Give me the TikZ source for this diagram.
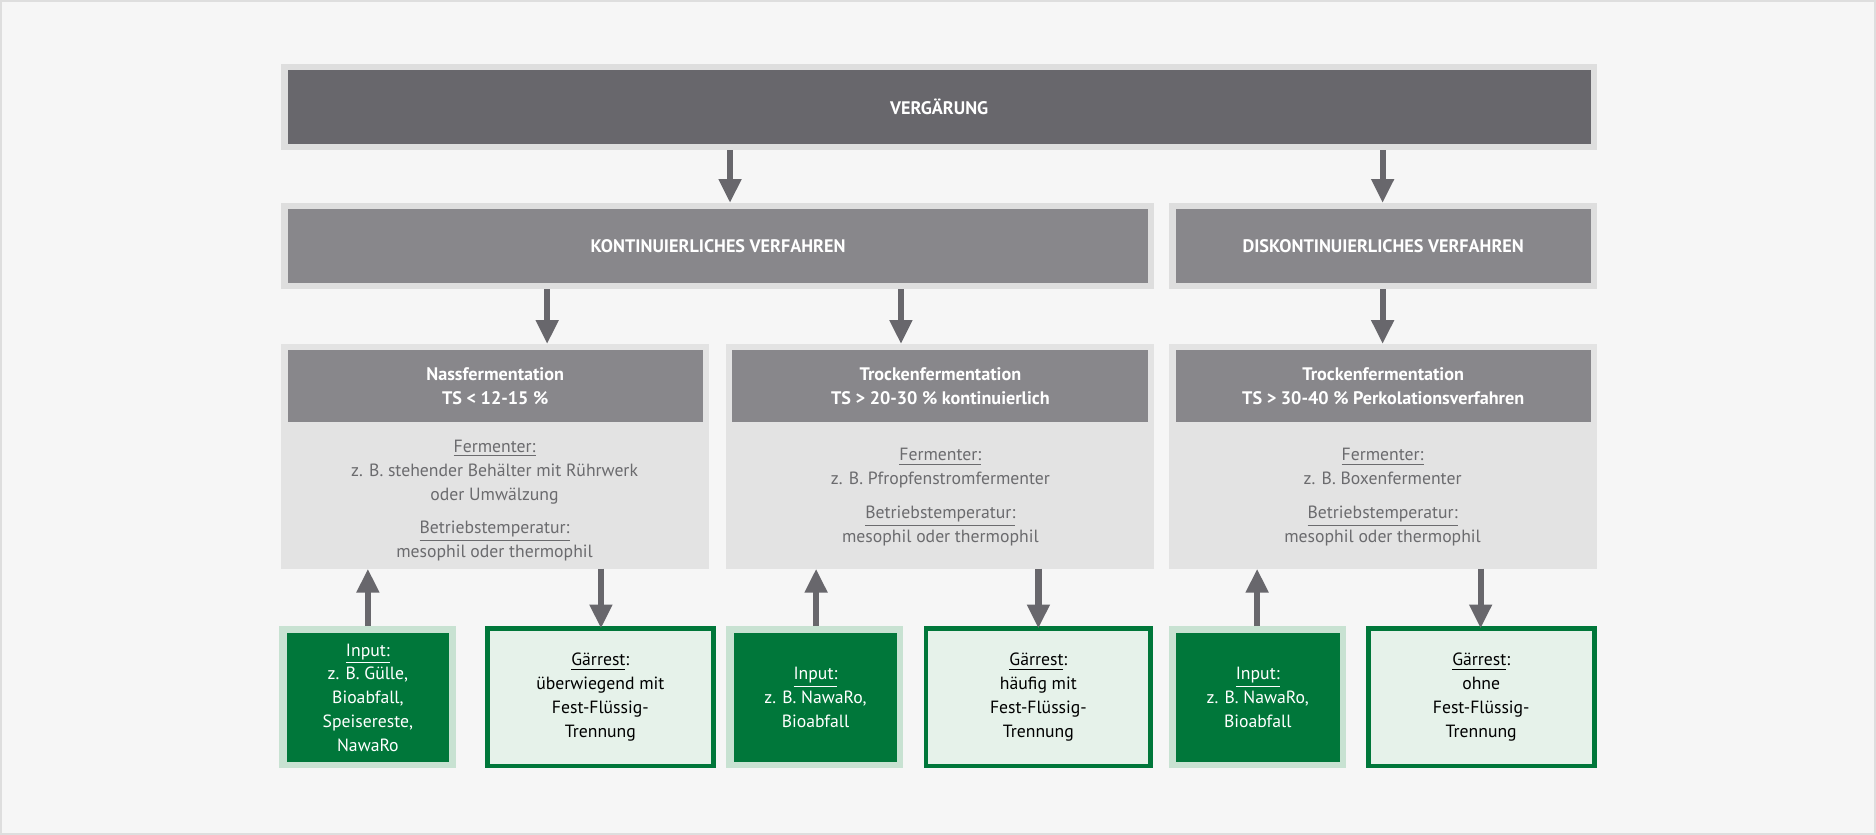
\documentclass[tikz,border=0pt]{standalone}
\usepackage{fontspec}
\setmainfont{PT Sans}
\usetikzlibrary{arrows.meta}
\definecolor{bgc}{HTML}{F6F6F6}
\definecolor{dk}{HTML}{68676C}
\definecolor{md}{HTML}{88878B}
\definecolor{fr}{HTML}{DEDEDE}
\definecolor{bodyc}{HTML}{E3E3E3}
\definecolor{gr}{HTML}{00773A}
\definecolor{grl}{HTML}{C8E2D2}
\definecolor{pale}{HTML}{E6F2EA}
\definecolor{tg}{HTML}{6B6B6E}
\newcommand\mybox[6]{\node[#6, inner sep=0pt, outer sep=0pt, minimum width={(#4-#2)*0.5pt}, minimum height={(#5-#3)*0.5pt}] (#1) at ({(#2+#4)/2},{(#3+#5)/2}) {};}
\tikzset{
 hd/.style={font=\fontsize{7.6}{10}\selectfont\bfseries, text=white, align=center},
 bt/.style={font=\fontsize{7.4}{10}\selectfont, text=tg, align=center},
 gt/.style={font=\fontsize{7.4}{10}\selectfont, align=center},
 arr/.style={draw=dk, line width=2.6pt, -{Triangle[length=10pt,width=9pt]}, shorten >=0pt},
}
\begin{document}
\begin{tikzpicture}[x=0.5pt,y=-0.5pt]
\fill[bgc, draw=fr, line width=0.8pt] (0,0) rectangle (1568,697);
\useasboundingbox (0,0) rectangle (1568,697);
% top
\mybox{vo}{234}{53}{1335}{125}{fill=fr}
\mybox{vi}{240}{58}{1330}{120}{fill=dk}
\node[hd] (vt) at (vi) {VERGÄRUNG};
% level 2
\mybox{ko}{234}{169}{965}{241}{fill=fr}
\mybox{ki}{240}{174}{960}{236}{fill=md}
\node[hd] (kt) at (ki) {KONTINUIERLICHES VERFAHREN};
\mybox{do}{977}{169}{1335}{241}{fill=fr}
\mybox{di}{983}{174}{1330}{236}{fill=md}
\node[hd] (dt) at (di) {DISKONTINUIERLICHES VERFAHREN};
\draw[arr] (vo.south -| 610,0) -- (ko.north -| 610,0);
\draw[arr] (vo.south -| 1156,0) -- (do.north -| 1156,0);
% level 3
\mybox{b1}{234}{287}{592}{475}{fill=bodyc}
\mybox{h1}{240}{292}{587}{352}{fill=md}
\node[hd] at (h1) {Nassfermentation\\TS < 12-15 \%};
\node[bt] (t1) at (413,418) {\underline{Fermenter:}\\z. B. stehender Behälter mit Rührwerk\\oder Umwälzung\\[4pt]\underline{Betriebstemperatur:}\\mesophil oder thermophil};
\mybox{b2}{607}{287}{965}{475}{fill=bodyc}
\mybox{h2}{612}{292}{960}{352}{fill=md}
\node[hd] at (h2) {Trockenfermentation\\TS > 20-30 \% kontinuierlich};
\node[bt] (t2) at (786,415) {\underline{Fermenter:}\\z. B. Pfropfenstromfermenter\\[4pt]\underline{Betriebstemperatur:}\\mesophil oder thermophil};
\mybox{b3}{977}{287}{1335}{475}{fill=bodyc}
\mybox{h3}{983}{292}{1330}{352}{fill=md}
\node[hd] at (h3) {Trockenfermentation\\TS > 30-40 \% Perkolationsverfahren};
\node[bt] (t3) at (1156,415) {\underline{Fermenter:}\\z. B. Boxenfermenter\\[4pt]\underline{Betriebstemperatur:}\\mesophil oder thermophil};
\draw[arr] (ko.south -| 457,0) -- (b1.north -| 457,0);
\draw[arr] (ko.south -| 753,0) -- (b2.north -| 753,0);
\draw[arr] (do.south -| 1156,0) -- (b3.north -| 1156,0);
% bottom
\mybox{i1o}{233}{523}{381}{642}{fill=grl}
\mybox{i1}{239}{529}{375}{637}{fill=gr}
\node[gt,text=white] at (i1) {\underline{Input:}\\z. B. Gülle,\\Bioabfall,\\Speisereste,\\NawaRo};
\mybox{g1}{407}{525}{596}{640}{fill=pale, draw=gr, line width=2pt}
\node[gt] at (g1) {\underline{Gärrest}:\\überwiegend mit\\Fest-Flüssig-\\Trennung};
\mybox{i2o}{607}{523}{755}{642}{fill=grl}
\mybox{i2}{613}{529}{750}{637}{fill=gr}
\node[gt,text=white] at (i2) {\underline{Input:}\\z. B. NawaRo,\\Bioabfall};
\mybox{g2}{774}{525}{962}{640}{fill=pale, draw=gr, line width=2pt}
\node[gt] at (g2) {\underline{Gärrest}:\\häufig mit\\Fest-Flüssig-\\Trennung};
\mybox{i3o}{977}{523}{1125}{642}{fill=grl}
\mybox{i3}{983}{529}{1120}{637}{fill=gr}
\node[gt,text=white] at (i3) {\underline{Input:}\\z. B. NawaRo,\\Bioabfall};
\mybox{g3}{1144}{525}{1333}{640}{fill=pale, draw=gr, line width=2pt}
\node[gt] at (g3) {\underline{Gärrest}:\\ohne\\Fest-Flüssig-\\Trennung};
\draw[arr] (i1o.north -| 307,0) -- (b1.south -| 307,0);
\draw[arr] (b1.south -| 502,0) -- (g1.north -| 502,0);
\draw[arr] (i2o.north -| 682,0) -- (b2.south -| 682,0);
\draw[arr] (b2.south -| 868,0) -- (g2.north -| 868,0);
\draw[arr] (i3o.north -| 1051,0) -- (b3.south -| 1051,0);
\draw[arr] (b3.south -| 1238,0) -- (g3.north -| 1238,0);
\end{tikzpicture}
\end{document}
